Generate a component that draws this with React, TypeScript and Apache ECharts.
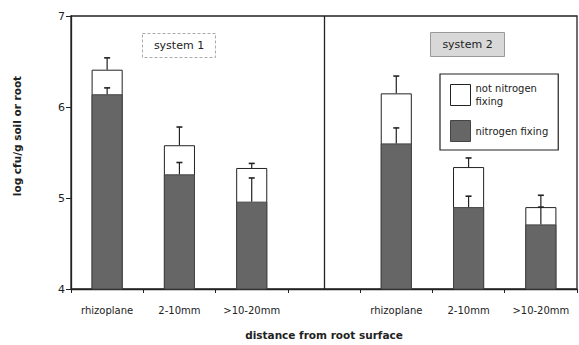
import React, { useEffect, useRef } from "react";
import * as echarts from "echarts";

const categories = ["rhizoplane", "2-10mm", ">10-20mm", "", "rhizoplane", "2-10mm", ">10-20mm"];
const totalCount = [6.41, 5.58, 5.33, null, 6.15, 5.34, 4.9];
const nitrogenFixing = [6.14, 5.26, 4.96, null, 5.6, 4.9, 4.71];
const totalErrTop = [6.54, 5.78, 5.38, null, 6.34, 5.44, 5.03];
const fixingErrTop = [6.21, 5.39, 5.22, null, 5.77, 5.02, 4.9];
const yTicks = [4, 5, 6, 7];
const systemLabels = ["system 1", "system 2"];

const FONT = "DejaVu Sans, Verdana, sans-serif";
const INK = "#222";
const DARK = "#666";

export default function App() {
  const ref = useRef<HTMLDivElement>(null);
  useEffect(() => {
    if (!ref.current) return;
    const chart = echarts.init(ref.current, null, { renderer: "svg" });
    const errData: any[] = [];
    categories.forEach((_, i) => {
      if (totalErrTop[i] != null) errData.push([i, totalCount[i], totalErrTop[i]]);
      if (fixingErrTop[i] != null) errData.push([i, nitrogenFixing[i], fixingErrTop[i]]);
    });
    chart.setOption({
      animation: false,
      backgroundColor: "#fff",
      grid: {
        left: 71,
        top: 16,
        right: 2,
        bottom: 53,
        show: true,
        borderColor: INK,
        borderWidth: 1.3,
        backgroundColor: "transparent",
      },
      legend: {
        orient: "vertical",
        left: 440,
        top: 74,
        width: 118,
        padding: [8, 10, 8, 10],
        borderColor: INK,
        borderWidth: 1.2,
        itemWidth: 20,
        itemHeight: 21,
        itemGap: 12,
        textStyle: { fontFamily: FONT, fontSize: 10, color: INK, lineHeight: 13 },
        formatter: (n: string) => (n === "not nitrogen fixing" ? "not nitrogen\nfixing" : n),
        data: [
          { name: "not nitrogen fixing", icon: "rect", itemStyle: { color: "#fff", borderColor: INK, borderWidth: 1 } },
          { name: "nitrogen fixing", icon: "rect", itemStyle: { color: DARK, borderColor: "#444", borderWidth: 1 } },
        ],
      },
      xAxis: {
        type: "category",
        data: categories,
        axisLine: { lineStyle: { color: INK, width: 1.3 } },
        axisTick: { show: true, length: 4, lineStyle: { color: INK } },
        axisLabel: { fontFamily: FONT, fontSize: 10, color: INK, margin: 16, interval: 0 },
        name: "distance from root surface",
        nameLocation: "middle",
        nameGap: 40,
        nameTextStyle: { fontFamily: FONT, fontSize: 10.5, fontWeight: "bold", color: INK },
      },
      yAxis: {
        type: "value",
        min: yTicks[0],
        max: yTicks[yTicks.length - 1],
        interval: 1,
        axisLine: { show: true, lineStyle: { color: INK, width: 1.3 } },
        axisTick: { show: true, length: 5, lineStyle: { color: INK } },
        axisLabel: { fontFamily: FONT, fontSize: 11, color: INK, margin: 6 },
        splitLine: { show: false },
      },
      graphic: [
        {
          type: "text",
          x: 17,
          y: 136,
          rotation: Math.PI / 2,
          style: {
            text: "log cfu/g soil or root",
            fontFamily: FONT,
            fontSize: 10.5,
            fontWeight: "bold",
            fill: INK,
            textAlign: "center",
            textVerticalAlign: "middle",
          },
        },
        {
          type: "group",
          left: 142,
          top: 33,
          children: [
            { type: "rect", shape: { x: 0, y: 0, width: 73, height: 24 }, style: { fill: "#fff", stroke: "#aaa", lineWidth: 1, lineDash: [3, 2] } },
            { type: "text", x: 36.5, y: 12, style: { text: systemLabels[0], fontFamily: FONT, fontSize: 11, fill: INK, textAlign: "center", textVerticalAlign: "middle" } },
          ],
        },
        {
          type: "group",
          left: 430,
          top: 32,
          children: [
            { type: "rect", shape: { x: 0, y: 0, width: 74, height: 24 }, style: { fill: "#d8d8d8", stroke: "#999", lineWidth: 1 } },
            { type: "text", x: 37, y: 12, style: { text: systemLabels[1], fontFamily: FONT, fontSize: 11, fill: INK, textAlign: "center", textVerticalAlign: "middle" } },
          ],
        },
      ],
      series: [
        {
          name: "not nitrogen fixing",
          type: "bar",
          data: totalCount,
          barWidth: "43%",
          itemStyle: { color: "#fff", borderColor: INK, borderWidth: 1 },
          markLine: {
            silent: true,
            symbol: "none",
            label: { show: false },
            lineStyle: { color: INK, width: 1.3, type: "solid" },
            data: [{ xAxis: 3 }],
          },
        },
        {
          name: "nitrogen fixing",
          type: "bar",
          data: nitrogenFixing,
          barWidth: "43%",
          barGap: "-100%",
          itemStyle: { color: DARK, borderColor: "#444", borderWidth: 1 },
        },
        {
          type: "custom",
          z: 10,
          data: errData,
          renderItem: (_params: any, api: any) => {
            const x = api.value(0);
            const p0 = api.coord([x, api.value(1)]);
            const p1 = api.coord([x, api.value(2)]);
            const cap = 3;
            return {
              type: "group",
              children: [
                { type: "line", shape: { x1: p0[0], y1: p0[1], x2: p1[0], y2: p1[1] }, style: { stroke: INK, lineWidth: 1.2 } },
                { type: "line", shape: { x1: p1[0] - cap, y1: p1[1], x2: p1[0] + cap, y2: p1[1] }, style: { stroke: INK, lineWidth: 1.6 } },
              ],
            };
          },
        },
      ],
    });
    return () => chart.dispose();
  }, []);
  return <div ref={ref} style={{ width: 579, height: 345, position: "absolute", left: 0, top: 0 }} />;
}
